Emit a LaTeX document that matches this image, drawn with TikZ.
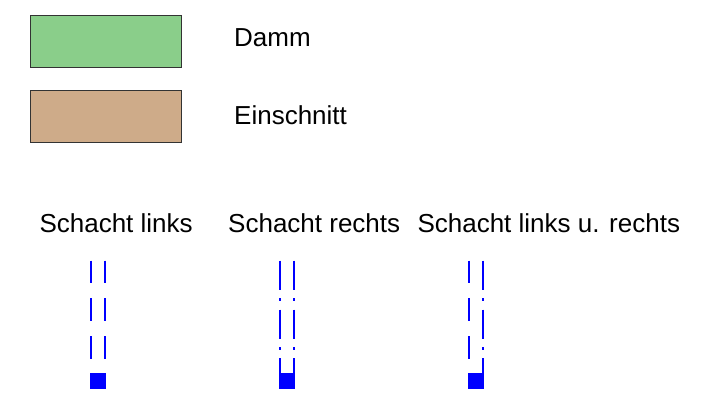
\documentclass[tikz,border=0pt]{standalone}
\usepackage{fontspec}
\setmainfont{Liberation Sans}
\usepackage{tikz}
\usetikzlibrary{positioning}

\definecolor{dammgreen}{RGB}{138,206,138}
\definecolor{cutbrown}{RGB}{206,171,137}
\definecolor{shaftblue}{RGB}{0,0,255}

\begin{document}
\begin{tikzpicture}[
    x=1pt, y=-1pt,
    legendbox/.style={rectangle, draw=black!80, line width=1.2pt, minimum width=151pt,
                      minimum height=52pt, inner sep=0pt, anchor=north west},
    label/.style={font=\fontsize{26}{30}\selectfont, inner sep=0pt, anchor=base west},
    dashline/.style={draw=shaftblue, line width=1.6pt, dash pattern=on 22.7pt off 15pt},
    dashdotline/.style={draw=shaftblue, line width=1.6pt,
                        dash pattern=on 29.3pt off 8.3pt on 2.6pt off 8.6pt},
    foot/.style={fill=shaftblue}
]
    \useasboundingbox (0,0) rectangle (704,414);

    % Legend
    \node[legendbox, fill=dammgreen] (damm) at (30,15) {};
    \node[legendbox, fill=cutbrown] (cut) at (30,90) {};
    \node[label] (dammtext) at (234,46.7) {Damm};
    \node[label] (cuttext) at (234,125) {Einschnitt};

    % Shaft labels
    \node[label] (left) at (39.3,233) {Schacht links};
    \node[label] (right) at (228,233) {Schacht rechts};
    \node[label] (both) at (417.3,233) {Schacht links u. rechts};

    % Schacht links
    \draw[dashline] (90.8,260.7) -- (90.8,373.3);
    \draw[dashline] (105.2,260.7) -- (105.2,373.3);
    \fill[foot] (90,373.3) rectangle (106,389.3);

    % Schacht rechts
    \draw[dashdotline] (279.8,260.7) -- (279.8,373.3);
    \draw[dashdotline] (294.2,260.7) -- (294.2,373.3);
    \fill[foot] (279,373.3) rectangle (295,389.3);

    % Schacht links u. rechts
    \draw[dashline] (468.8,260.7) -- (468.8,373.3);
    \draw[dashdotline] (483.2,260.7) -- (483.2,373.3);
    \fill[foot] (468,373.3) rectangle (484,389.3);
\end{tikzpicture}
\end{document}
